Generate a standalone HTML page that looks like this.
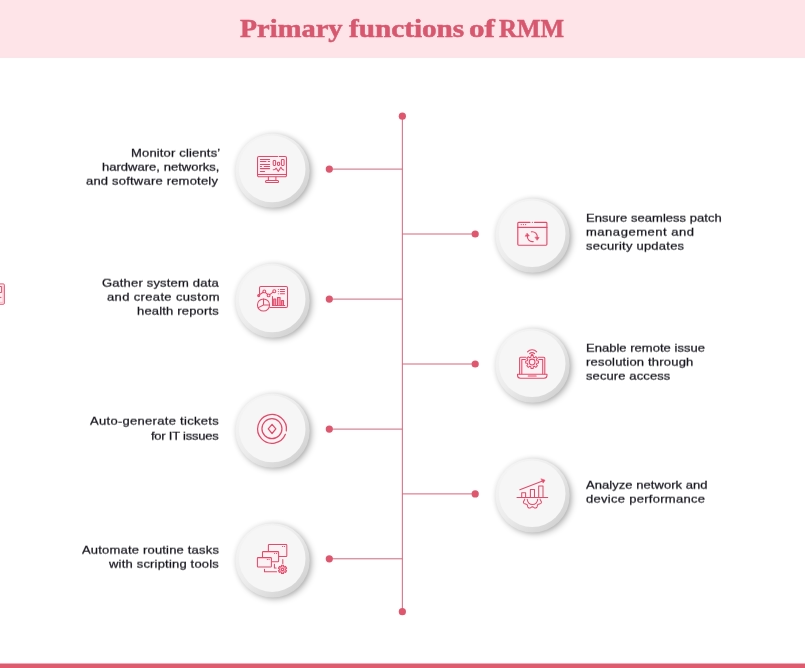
<!DOCTYPE html>
<html><head><meta charset="utf-8"><title>Primary functions of RMM</title>
<style>
html,body{margin:0;padding:0;background:#fff;}
body{width:805px;height:668px;position:relative;overflow:hidden;font-family:"Liberation Sans",sans-serif;}
#wrap{position:absolute;left:-12px;top:-12px;width:829px;height:692px;background:#fff;overflow:hidden;filter:url(#jpg);}
#page{position:absolute;left:12px;top:12px;width:805px;height:668px;}
.hdr{position:absolute;left:-12px;top:-12px;width:829px;height:69.5px;background:#fee3e7;}
.ttl{position:absolute;font-family:"Liberation Serif",serif;font-weight:bold;color:#d9576f;white-space:nowrap;transform-origin:0 0;-webkit-text-stroke:0.5px #d9576f;}
.bar{position:absolute;left:-12px;top:663px;width:829px;height:17px;background:linear-gradient(to bottom, rgba(224,90,111,0.5) 0px, rgba(224,90,111,0.5) 1px, #e05a6f 1px);}
.t{position:absolute;font-size:11.5px;line-height:11.5px;color:#17151f;white-space:nowrap;transform-origin:0 0;transform:scaleX(1.13);-webkit-text-stroke:0.25px #17151f;}
#txt{position:absolute;left:0;top:0;width:805px;height:668px;filter:url(#half);}
svg.gfx{position:absolute;left:0;top:0;overflow:visible;}
</style></head><body>
<svg width="0" height="0" style="position:absolute"><defs>
<filter id="jpg" x="0" y="0" width="100%" height="100%" filterUnits="objectBoundingBox" color-interpolation-filters="sRGB">
<feColorMatrix in="SourceGraphic" type="matrix" values="0.299 0.587 0.114 0 0  0.299 0.587 0.114 0 0  0.299 0.587 0.114 0 0  0 0 0 1 0" result="Y"/>
<feColorMatrix in="SourceGraphic" type="matrix" values="0.3505 -0.2935 -0.057 0 0.50196  -0.1495 0.2065 -0.057 0 0.50196  -0.1495 -0.2935 0.443 0 0.50196  0 0 0 1 0" result="C"/>
<feGaussianBlur in="C" stdDeviation="1.0" result="Cb"/>
<feComposite in="Y" in2="Cb" operator="arithmetic" k1="0" k2="1" k3="2" k4="-1.00392"/>
</filter>
<filter id="half" x="0" y="0" width="100%" height="100%" color-interpolation-filters="sRGB"><feConvolveMatrix order="1 2" kernelMatrix="0.3 0.7" targetX="0" targetY="0" edgeMode="none" preserveAlpha="false"/></filter>
</defs></svg>
<div id="wrap"><div id="page">
<div class="hdr"></div>
<span class="ttl" style="left:239.6px;top:15.66px;font-size:25px;line-height:25px;transform:scaleX(1.1408)"><span style="font-size:24.5px">P</span>rimary</span><span class="ttl" style="left:348.7px;top:15.66px;font-size:25px;line-height:25px;transform:scaleX(1.1679)">functions</span><span class="ttl" style="left:468.9px;top:15.66px;font-size:25px;line-height:25px;transform:scaleX(1.2435)">of</span><span class="ttl" style="left:498.6px;top:15.66px;font-size:25px;line-height:25px;transform:scaleX(0.9962)">RMM</span>
<svg class="gfx" width="805" height="668" viewBox="0 0 805 668">
<defs>
<filter id="sh" x="-50%" y="-50%" width="200%" height="200%"><feGaussianBlur stdDeviation="3.5"/></filter>
<filter id="sh2" x="-50%" y="-50%" width="200%" height="200%"><feGaussianBlur stdDeviation="2.2"/></filter>
<linearGradient id="ring" x1="0.15" y1="0.15" x2="0.85" y2="0.85"><stop offset="0" stop-color="#f4f4f4"/><stop offset="0.45" stop-color="#ececec"/><stop offset="1" stop-color="#d4d4d4"/></linearGradient>
<clipPath id="below"><rect x="510" y="497.6" width="50" height="20"/></clipPath>
</defs>
<path d="M402.35 116 V611.7" stroke="#d7647d" stroke-width="1.0" fill="none"/>
<path d="M329.3 169.1 H402.35" stroke="#d7647d" stroke-width="1.0" fill="none"/>
<path d="M329.3 299.1 H402.35" stroke="#d7647d" stroke-width="1.0" fill="none"/>
<path d="M329.3 429.1 H402.35" stroke="#d7647d" stroke-width="1.0" fill="none"/>
<path d="M329.3 558.8 H402.35" stroke="#d7647d" stroke-width="1.0" fill="none"/>
<path d="M402.35 234.0 H475" stroke="#d7647d" stroke-width="1.0" fill="none"/>
<path d="M402.35 364.0 H475" stroke="#d7647d" stroke-width="1.0" fill="none"/>
<path d="M402.35 493.9 H475" stroke="#d7647d" stroke-width="1.0" fill="none"/>
<circle cx="329.3" cy="169.1" r="3.6" fill="#e0566f"/>
<circle cx="329.3" cy="299.1" r="3.6" fill="#e0566f"/>
<circle cx="329.3" cy="429.1" r="3.6" fill="#e0566f"/>
<circle cx="329.3" cy="558.8" r="3.6" fill="#e0566f"/>
<circle cx="475.2" cy="234.0" r="3.6" fill="#e0566f"/>
<circle cx="475.2" cy="364.0" r="3.6" fill="#e0566f"/>
<circle cx="475.2" cy="493.9" r="3.6" fill="#e0566f"/>
<circle cx="402.35" cy="116.2" r="3.6" fill="#e0566f"/><circle cx="402.35" cy="611.7" r="3.6" fill="#e0566f"/>
<g transform="translate(272.2,169.1)">
<circle cx="2.9" cy="3.5" r="36.2" fill="#000" opacity="0.34" filter="url(#sh)"/>
<circle cx="0" cy="1" r="38.5" fill="#000" opacity="0.035" filter="url(#sh2)"/>
<circle cx="0.4" cy="1.6" r="37.1" fill="url(#ring)"/>
<circle cx="0" cy="-0.2" r="33.3" fill="#f6f6f6"/>
</g>
<g transform="translate(272.2,299.1)">
<circle cx="2.9" cy="3.5" r="36.2" fill="#000" opacity="0.34" filter="url(#sh)"/>
<circle cx="0" cy="1" r="38.5" fill="#000" opacity="0.035" filter="url(#sh2)"/>
<circle cx="0.4" cy="1.6" r="37.1" fill="url(#ring)"/>
<circle cx="0" cy="-0.2" r="33.3" fill="#f6f6f6"/>
</g>
<g transform="translate(272.2,429.1)">
<circle cx="2.9" cy="3.5" r="36.2" fill="#000" opacity="0.34" filter="url(#sh)"/>
<circle cx="0" cy="1" r="38.5" fill="#000" opacity="0.035" filter="url(#sh2)"/>
<circle cx="0.4" cy="1.6" r="37.1" fill="url(#ring)"/>
<circle cx="0" cy="-0.2" r="33.3" fill="#f6f6f6"/>
</g>
<g transform="translate(272.2,558.8)">
<circle cx="2.9" cy="3.5" r="36.2" fill="#000" opacity="0.34" filter="url(#sh)"/>
<circle cx="0" cy="1" r="38.5" fill="#000" opacity="0.035" filter="url(#sh2)"/>
<circle cx="0.4" cy="1.6" r="37.1" fill="url(#ring)"/>
<circle cx="0" cy="-0.2" r="33.3" fill="#f6f6f6"/>
</g>
<g transform="translate(532.2,234.0)">
<circle cx="2.9" cy="3.5" r="36.2" fill="#000" opacity="0.34" filter="url(#sh)"/>
<circle cx="0" cy="1" r="38.5" fill="#000" opacity="0.035" filter="url(#sh2)"/>
<circle cx="0.4" cy="1.6" r="37.1" fill="url(#ring)"/>
<circle cx="0" cy="-0.2" r="33.3" fill="#f6f6f6"/>
</g>
<g transform="translate(532.2,364.0)">
<circle cx="2.9" cy="3.5" r="36.2" fill="#000" opacity="0.34" filter="url(#sh)"/>
<circle cx="0" cy="1" r="38.5" fill="#000" opacity="0.035" filter="url(#sh2)"/>
<circle cx="0.4" cy="1.6" r="37.1" fill="url(#ring)"/>
<circle cx="0" cy="-0.2" r="33.3" fill="#f6f6f6"/>
</g>
<g transform="translate(532.2,493.9)">
<circle cx="2.9" cy="3.5" r="36.2" fill="#000" opacity="0.34" filter="url(#sh)"/>
<circle cx="0" cy="1" r="38.5" fill="#000" opacity="0.035" filter="url(#sh2)"/>
<circle cx="0.4" cy="1.6" r="37.1" fill="url(#ring)"/>
<circle cx="0" cy="-0.2" r="33.3" fill="#f6f6f6"/>
</g>
<g fill="none" stroke-linecap="round" stroke-linejoin="round"><g stroke="#ec4569" stroke-width="1.05">
<rect x="257.5" y="156.5" width="29" height="20" rx="1.4" fill="#f9f1f3" stroke="none"/>
<path d="M277.6 156.5 H258.9 a1.4 1.4 0 0 0 -1.4 1.4 V175.3 a1.4 1.4 0 0 0 1.4 1.4 H285.1 a1.4 1.4 0 0 0 1.4 -1.4 V157.9 a1.4 1.4 0 0 0 -1.4 -1.4 H279.2"/>
<path d="M257.6 174.5 H286.4"/>
<path d="M268.4 177 V180.2 M275.9 177 V180.2"/>
<rect x="265.5" y="180.4" width="13.1" height="2" rx="1"/>
<path d="M260.4 159.5 H269.6 M260.4 161.5 H266 M268.2 161.5 H269.6 M260.4 164.5 H269.6 M260.4 166.5 H261.5 M264.2 166.5 H269.6 M260.4 168.6 H269.6 M260.4 171.5 H264.6"/>
<rect x="273.2" y="160.5" width="2.4" height="4.9" rx="0.8"/><rect x="277.5" y="162.2" width="2.1" height="3.2" rx="0.8"/><rect x="281.4" y="159.5" width="2.7" height="5.9" rx="0.8"/>
<path d="M273.2 169.8 L274.8 169.6 L276.2 168.2 L278.3 171.4 L280.9 167.3 L282.4 169.5 L283.7 170"/>
</g>
<g stroke="#ec4569" stroke-width="1.05">
<rect x="259.5" y="286.5" width="28" height="21" rx="1.4" fill="#f9f1f3" stroke="none"/>
<path d="M259.5 293.4 V287.9 a1.4 1.4 0 0 1 1.4 -1.4 H286.1 a1.4 1.4 0 0 1 1.4 1.4 V306.1 a1.4 1.4 0 0 1 -1.4 1.4 H270"/>
<circle cx="263.5" cy="305" r="6.05"/>
<path d="M263.5 305 V299 M263.5 305 H269.5 M263.5 305 L258.4 307.6"/>
<path d="M259.4 294.7 L263.3 292.3 M265.3 292.4 L267.7 294.5 M269.7 294.6 L273.1 292.1"/>
<circle cx="258.7" cy="295.6" r="1.0" fill="#e78a9c"/><circle cx="264.3" cy="291.4" r="1.4"/><circle cx="268.6" cy="295.4" r="1.4"/><circle cx="274.3" cy="291.2" r="1.5"/>
<path d="M278.3 289.5 h0.1 M278.3 291.5 h0.1 M278.3 293.8 h0.1 M280.3 289.5 H284.5 M280.3 291.5 H284.5 M280.3 293.8 H284.5"/>
<path d="M272.5 296.4 V305.5 H284.8"/>
<path d="M273.7 305.3 V298.9 H275.7 V305.3 M277.5 305.3 V297.5 H280.1 V305.3 M281.6 305.3 V300.5 H283.5 V305.3" fill="#f3a3b3"/>
</g>
<g stroke="#ec4569" stroke-width="1.25">
<path d="M285.40 434.29 A14.4 14.4 0 1 1 286.31 430.90"/>
<circle cx="271.95" cy="428.7" r="10"/>
<path d="M272.05 424.29999999999995 L275.85 428.9 L272.05 433.5 L268.25 428.9 Z"/>
</g>
<g stroke="#ec4569" stroke-width="1.05">
<rect x="268.4" y="544.5" width="18.4" height="12" fill="#f9f1f3" stroke="none"/><rect x="262.5" y="551.6" width="16.1" height="10.2" fill="#f9f1f3" stroke="none"/>
<path d="M268.4 551 V545.2 a0.7 0.7 0 0 1 .7 -.7 H286.1 a.7 .7 0 0 1 .7 .7 V555.8 a.7 .7 0 0 1 -.7 .7 H279.2"/>
<path d="M282.5 546.5 h0.2 M284.4 546.5 h0.2"/>
<path d="M262.5 557 V552.3 a.7 .7 0 0 1 .7 -.7 H277.9 a.7 .7 0 0 1 .7 .7 V561.1 a.7 .7 0 0 1 -.7 .7 H272"/>
<path d="M274.5 553.4 h0.2 M276.5 553.4 h0.2"/>
<rect x="257.4" y="557.6" width="14" height="9.4" rx="0.7" fill="#f9f1f3"/>
<path d="M267.3 559.4 h0.2 M269 559.4 h0.2"/>
<path d="M282.8 559.4 V563.4 M274.4 564.3 V568 H276.1 M264.5 569.2 V571.7 H276.6"/>
<path d="M285.65 569.97 L286.63 570.60 L285.60 572.38 L284.57 571.84 L283.58 572.41 L283.53 573.57 L281.47 573.57 L281.42 572.41 L280.43 571.84 L279.40 572.38 L278.37 570.60 L279.35 569.97 L279.35 568.83 L278.37 568.20 L279.40 566.42 L280.43 566.96 L281.42 566.39 L281.47 565.23 L283.53 565.23 L283.58 566.39 L284.57 566.96 L285.60 566.42 L286.63 568.20 L285.65 568.83Z" fill="#f6b3c0"/><circle cx="282.5" cy="569.4" r="1.2" fill="#f6f6f6"/>
</g>
<g stroke="#ec4569" stroke-width="1.15">
<rect x="517.8" y="222.3" width="29.1" height="22.9" fill="#f9f1f3" stroke="none"/>
<path d="M530 222.3 H518.7 a.9 .9 0 0 0 -.9 .9 V244.3 a.9 .9 0 0 0 .9 .9 H546 a.9 .9 0 0 0 .9 -.9 V223.2 a.9 .9 0 0 0 -.9 -.9 H534.5 M532.3 222.3 h0.1"/>
<path d="M517.8 227.4 H546.9"/>
<path d="M521.2 224.6 h0.1 M523.4 224.6 h0.1 M525.6 224.6 h0.1"/>
<path d="M531.4 231.8 A5 5 0 0 1 537.2 237.6 M533.2 241.6 A5 5 0 0 1 527.4 235.8"/>
<path d="M535.3 237.2 L539.1 237.5 L537.3 240 Z M525.5 236.2 L529.3 235.9 L527.3 233.4 Z" fill="#ec4569" stroke-width="0.6"/>
</g>
<g stroke="#ec4569" stroke-width="1.05">
<rect x="519.6" y="357.3" width="25.2" height="17" fill="#f9f1f3" stroke="none"/>
<path d="M526 357.3 H520.6 a1 1 0 0 0 -1 1 V374 M544.8 374 V358.3 a1 1 0 0 0 -1 -1 H538.2"/>
<path d="M525.4 359.4 H521.8 V373.8 M542.7 373.8 V359.4 H538.8"/>
<path d="M517.5 374.3 H547 V375.3 a3 3 0 0 1 -3 3 H520.5 a3 3 0 0 1 -3 -3 Z"/>
<path d="M528.2 375.9 H536.2"/>
<path d="M536.95 360.79 L538.51 360.90 L538.51 363.10 L536.95 363.21 L536.38 364.58 L537.41 365.75 L535.85 367.31 L534.68 366.28 L533.31 366.85 L533.20 368.41 L531.00 368.41 L530.89 366.85 L529.52 366.28 L528.35 367.31 L526.79 365.75 L527.82 364.58 L527.25 363.21 L525.69 363.10 L525.69 360.90 L527.25 360.79 L527.82 359.42 L526.79 358.25 L528.35 356.69 L529.52 357.72 L530.89 357.15 L531.00 355.59 L533.20 355.59 L533.31 357.15 L534.68 357.72 L535.85 356.69 L537.41 358.25 L536.38 359.42Z"/><circle cx="532.1" cy="362" r="2.9"/>
<path d="M527.5 351.9 A6 6 0 0 1 536.7 351.9 M529.6 353.7 A3.4 3.4 0 0 1 534.6 353.7 M531.4 354.7 A1.2 1.2 0 0 1 532.8 354.7"/>
</g>
<g stroke="#ec4569" stroke-width="1.05">
<path d="M517 497.5 H547.7"/>
<path d="M521.7 497.3 V492.8 H525.6 V497.3 M530.4 497.3 V489.5 H534.5 V497.3 M538.7 497.3 V485.9 H543 V497.3"/>
<path d="M519.8 489.7 L543.2 480.8"/>
<path d="M541.3 478.9 L545 480.2 L543.3 482.8 Z" fill="#ec4569" stroke-width="0.6"/>
<path d="M527.2 499.3 A5.25 5.25 0 0 0 537.7 499.3"/>
<path d="M540.10 499.10 L540.17 499.51 L540.37 499.94 L540.65 500.41 L540.96 500.92 L541.21 501.46 L541.36 502.01 L541.34 502.53 L541.15 503.00 L540.79 503.38 L540.30 503.66 L539.74 503.87 L539.16 504.01 L538.63 504.14 L538.18 504.31 L537.84 504.54 L537.61 504.88 L537.44 505.33 L537.31 505.86 L537.17 506.44 L536.96 507.00 L536.68 507.49 L536.30 507.85 L535.83 508.04 L535.31 508.06 L534.76 507.91 L534.22 507.66 L533.71 507.35 L533.24 507.07 L532.81 506.87 L532.40 506.80 L531.99 506.87 L531.56 507.07 L531.09 507.35 L530.58 507.66 L530.04 507.91 L529.49 508.06 L528.97 508.04 L528.50 507.85 L528.12 507.49 L527.84 507.00 L527.63 506.44 L527.49 505.86 L527.36 505.33 L527.19 504.88 L526.96 504.54 L526.62 504.31 L526.17 504.14 L525.64 504.01 L525.06 503.87 L524.50 503.66 L524.01 503.38 L523.65 503.00 L523.46 502.53 L523.44 502.01 L523.59 501.46 L523.84 500.92 L524.15 500.41 L524.43 499.94 L524.63 499.51 L524.70 499.10"/>
</g></g>
<g fill="none" stroke="#e6506f" stroke-width="0.95">
<path d="M-2 283.9 H3.2 a1.2 1.2 0 0 1 1.2 1.2 V303.1 a1.2 1.2 0 0 1 -1.2 1.2 H-2" fill="#fbeef1"/>
<path d="M-2 286.5 H1.6 V292.5 H-2 M-2 297.4 H1.4" stroke-width="1"/>
<path d="M-2 302.4 H3.4 M3.1 285.5 V302" stroke-width="0.6" stroke="#f3a0b2"/>
</g>
</svg>
<div id="txt">
<span class="t" style="left:130.78px;top:147.77px;letter-spacing:0.150px">Monitor clients’</span>
<span class="t" style="left:101.52px;top:161.67px;letter-spacing:0.022px">hardware, networks,</span>
<span class="t" style="left:86.02px;top:175.67px;letter-spacing:0.180px">and software remotely</span>
<span class="t" style="left:101.52px;top:277.77px;letter-spacing:0.175px">Gather system data</span>
<span class="t" style="left:106.80px;top:291.67px;letter-spacing:0.313px">and create custom</span>
<span class="t" style="left:136.80px;top:305.67px;letter-spacing:0.158px">health reports</span>
<span class="t" style="left:90.20px;top:415.77px;letter-spacing:0.260px">Auto-generate tickets</span>
<span class="t" style="left:150.94px;top:430.67px;letter-spacing:-0.209px">for IT issues</span>
<span class="t" style="left:81.70px;top:544.87px;letter-spacing:0.169px">Automate routine tasks</span>
<span class="t" style="left:108.77px;top:558.77px;letter-spacing:0.171px">with scripting tools</span>
<span class="t" style="left:585.76px;top:212.87px;letter-spacing:0.027px">Ensure seamless patch</span>
<span class="t" style="left:586.16px;top:226.77px;letter-spacing:0.470px">management and</span>
<span class="t" style="left:586.16px;top:240.67px;letter-spacing:0.204px">security updates</span>
<span class="t" style="left:585.76px;top:342.87px;letter-spacing:0.024px">Enable remote issue</span>
<span class="t" style="left:586.16px;top:356.77px;letter-spacing:0.170px">resolution through</span>
<span class="t" style="left:586.16px;top:370.67px;letter-spacing:0.094px">secure access</span>
<span class="t" style="left:586.16px;top:479.87px;letter-spacing:0.045px">Analyze network and</span>
<span class="t" style="left:586.16px;top:493.77px;letter-spacing:0.253px">device performance</span>
</div>
<div class="bar"></div>
</div></div>
</body></html>
